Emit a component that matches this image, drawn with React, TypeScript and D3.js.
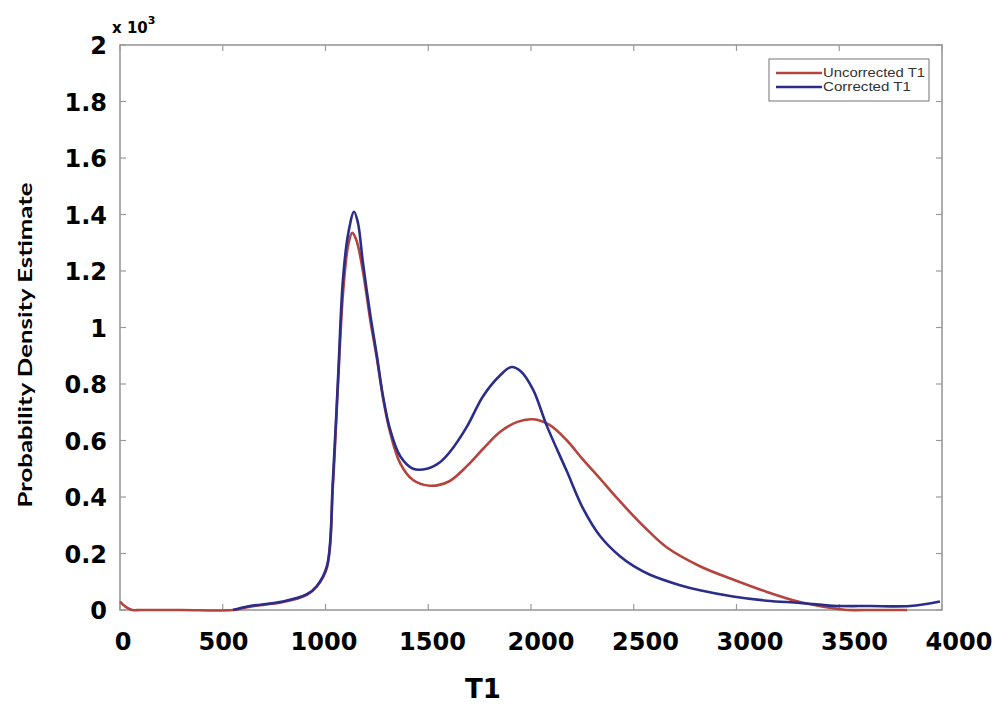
import React from "react";
import * as d3 from "d3";

const uncorrectedX = [0, 30, 60, 100, 300, 550, 633, 793, 910, 958, 1007, 1036, 1061, 1085, 1110, 1130, 1150, 1182, 1217, 1250, 1280, 1314, 1363, 1426, 1508, 1600, 1689, 1766, 1849, 1930, 2010, 2090, 2175, 2250, 2336, 2420, 2496, 2564, 2660, 2822, 2983, 3148, 3309, 3470, 3540, 3620, 3830];
const uncorrectedY = [0.03, 0.01, 0, 0, 0, 0, 0.012, 0.028, 0.054, 0.083, 0.15, 0.44, 0.8, 1.12, 1.29, 1.335, 1.31, 1.2, 1.03, 0.89, 0.75, 0.63, 0.52, 0.46, 0.44, 0.455, 0.51, 0.57, 0.63, 0.665, 0.675, 0.655, 0.6, 0.535, 0.465, 0.395, 0.335, 0.285, 0.222, 0.155, 0.108, 0.064, 0.028, 0.006, 0, 0, 0];

const correctedX = [550, 633, 793, 910, 958, 1007, 1036, 1061, 1085, 1110, 1139, 1158, 1182, 1217, 1250, 1280, 1314, 1363, 1426, 1494, 1557, 1606, 1689, 1766, 1849, 1905, 1950, 2010, 2078, 2175, 2253, 2336, 2433, 2500, 2579, 2725, 2822, 2983, 3148, 3309, 3470, 3650, 3844, 3990];
const correctedY = [0, 0.014, 0.03, 0.056, 0.085, 0.155, 0.46, 0.82, 1.17, 1.33, 1.41, 1.37, 1.23, 1.05, 0.9, 0.756, 0.64, 0.545, 0.5, 0.5, 0.523, 0.56, 0.65, 0.756, 0.83, 0.86, 0.845, 0.78, 0.65, 0.49, 0.36, 0.262, 0.19, 0.155, 0.125, 0.088, 0.07, 0.048, 0.033, 0.025, 0.015, 0.014, 0.014, 0.03];

const xTicks = [0, 500, 1000, 1500, 2000, 2500, 3000, 3500, 4000];
const yTicks = [0, 0.2, 0.4, 0.6, 0.8, 1, 1.2, 1.4, 1.6, 1.8, 2];
const seriesNames = ["Uncorrected T1", "Corrected T1"];
const seriesColors = ["#b4443d", "#2b2d8a"];

export default function App() {
  const left = 120, right = 942, top = 45, bottom = 610;
  const x = d3.scaleLinear().domain([0, 4000]).range([left, right]);
  const y = d3.scaleLinear().domain([0, 2]).range([bottom, top]);
  const xLabel = d3.scaleLinear().domain([0, 1000, 2000, 4000]).range([123, 324, 541, 959]);
  const line = d3
    .line<[number, number]>()
    .x((d) => x(d[0]))
    .y((d) => y(d[1]))
    .curve(d3.curveCatmullRom.alpha(0.5));
  const red = line(uncorrectedX.map((v, i) => [v, uncorrectedY[i]] as [number, number])) || "";
  const blue = line(correctedX.map((v, i) => [v, correctedY[i]] as [number, number])) || "";
  const tickFont = "'DejaVu Sans', Verdana, sans-serif";
  const frame = "#9a9a9a";
  const tl = 6;
  return (
    <svg width={1002} height={708} style={{ position: "absolute", left: 0, top: 0, background: "#fff" }}>
      <rect x={0} y={0} width={1002} height={708} fill="#fff" />
      {xTicks.map((t) => (
        <g key={"xt" + t}>
          <line x1={x(t)} x2={x(t)} y1={bottom} y2={bottom - tl} stroke={frame} strokeWidth={1.2} />
          <line x1={x(t)} x2={x(t)} y1={top} y2={top + tl} stroke={frame} strokeWidth={1.2} />
          <text x={xLabel(t)} y={650} textAnchor="middle" fontFamily={tickFont} fontWeight="bold" fontSize={24} fill="#000">
            {t}
          </text>
        </g>
      ))}
      {yTicks.map((t) => (
        <g key={"yt" + t}>
          <line x1={left} x2={left + tl} y1={y(t)} y2={y(t)} stroke={frame} strokeWidth={1.2} />
          <line x1={right} x2={right - tl} y1={y(t)} y2={y(t)} stroke={frame} strokeWidth={1.2} />
          <text x={107} y={y(t) + 9} textAnchor="end" fontFamily={tickFont} fontWeight="bold" fontSize={24} fill="#000">
            {String(t)}
          </text>
        </g>
      ))}
      <rect x={left} y={top} width={right - left} height={bottom - top} fill="none" stroke={frame} strokeWidth={1.6} />
      <path d={red} fill="none" stroke={seriesColors[0]} strokeWidth={2.6} strokeLinejoin="round" />
      <path d={blue} fill="none" stroke={seriesColors[1]} strokeWidth={2.6} strokeLinejoin="round" />
      <text x={112} y={33} fontFamily={tickFont} fontWeight="bold" fontSize={15} fill="#000">
        x 10
        <tspan dy={-9} fontSize={11}>3</tspan>
      </text>
      <text x={483} y={698} textAnchor="middle" fontFamily={tickFont} fontWeight="bold" fontSize={26} fill="#000">
        T1
      </text>
      <text
        transform="translate(32,345) rotate(-90)"
        textAnchor="middle"
        fontFamily="Lato, 'Open Sans', sans-serif"
        fontWeight="bold"
        fontSize={19}
        textLength={325}
        lengthAdjust="spacingAndGlyphs"
        fill="#000"
      >
        Probability Density Estimate
      </text>
      <rect x={769} y={59} width={160} height={42} fill="#fff" stroke="#8a8a8a" strokeWidth={1.2} />
      {seriesNames.map((n, i) => (
        <g key={n}>
          <line x1={776} x2={822} y1={73 + i * 14} y2={73 + i * 14} stroke={seriesColors[i]} strokeWidth={2.6} />
          <text x={823} y={77 + i * 14} fontFamily="'Liberation Sans', Arial, sans-serif" fontSize={12} fill="#333" textLength={i === 0 ? 102 : 88} lengthAdjust="spacingAndGlyphs">
            {n}
          </text>
        </g>
      ))}
    </svg>
  );
}
